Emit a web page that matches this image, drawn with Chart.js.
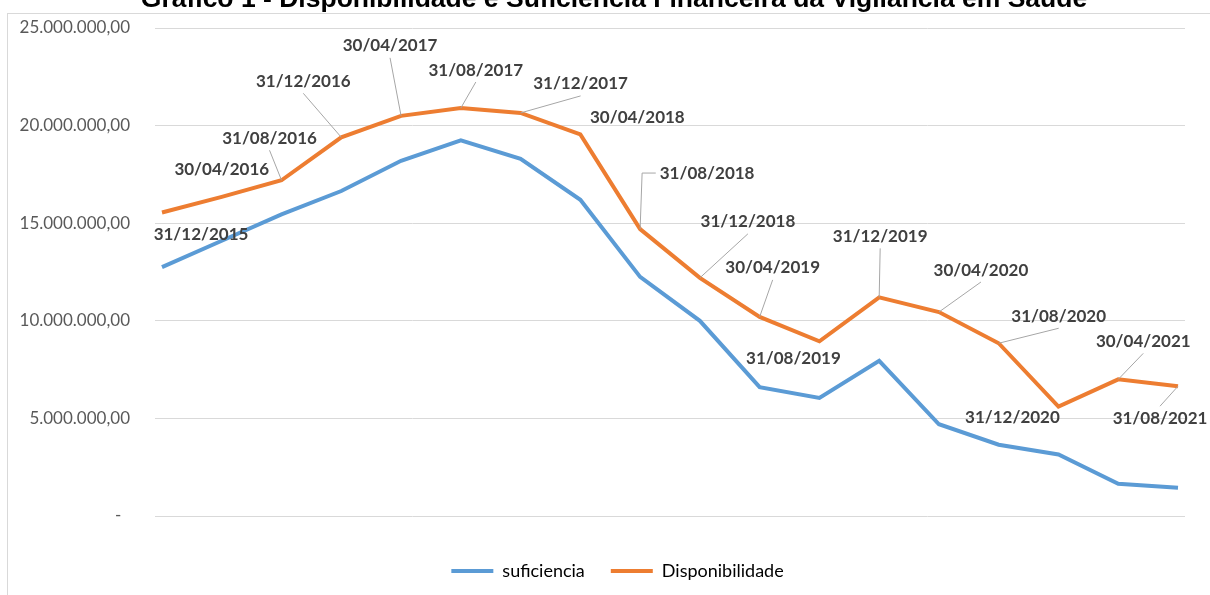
<!DOCTYPE html>
<html>
<head>
<meta charset="utf-8">
<script src="https://cdn.jsdelivr.net/npm/chart.js@4/dist/chart.umd.min.js"></script>
<style>
  html, body { margin: 0; padding: 0; background: #fff; }
  #wrap { width: 1210px; height: 595px; position: relative; }
</style>
</head>
<body>
<div id="wrap"><canvas id="chart" width="1210" height="595"></canvas></div>
<script>
'use strict'

const dates = [
  '31/12/2015', '30/04/2016', '31/08/2016', '31/12/2016', '30/04/2017', '31/08/2017',
  '31/12/2017', '30/04/2018', '31/08/2018', '31/12/2018', '30/04/2019', '31/08/2019',
  '31/12/2019', '30/04/2020', '31/08/2020', '31/12/2020', '30/04/2021', '31/08/2021'
];
const suficiencia = [
  12750000, 14100000, 15450000, 16650000, 18200000, 19250000,
  18300000, 16200000, 12250000, 10000000, 6600000, 6050000,
  7950000, 4700000, 3650000, 3150000, 1650000, 1450000
];
const disponibilidade = [
  15550000, 16350000, 17200000, 19400000, 20500000, 20900000,
  20650000, 19550000, 14700000, 12200000, 10200000, 8950000,
  11200000, 10450000, 8850000, 5600000, 7000000, 6650000
];
const yTicks = [0, 5000000, 10000000, 15000000, 20000000, 25000000];
const title = 'Gráfico 1 - Disponibilidade e Suficiência Financeira da Vigilância em Saúde';

// posição dos rótulos (dx, dy em px a partir do ponto), leader: 'v', 'elbow' ou null
const labelPos = [
  [39, 22, null], [0, -27, null], [-12, -42, 'v'], [-38, -56, 'v'], [-11, -70, 'v'], [15, -38, 'v'],
  [60, -29, 'v'], [57, -17, null], [67, -56, 'elbow'], [48, -56, 'v'], [13, -49, 'v'], [-26, 17, null],
  [1, -61, 'v'], [42, -42, 'v'], [60, -27, 'v'], [-46, 11, null], [25, -38, 'v'], [-18, 32, 'v']
];

function fmt(v) {
  if (v === 0) return '-  ';
  const parts = Math.round(v).toString().replace(/\B(?=(\d{3})+(?!\d))/g, '.');
  return parts + ',00';
}

const frame = {
  id: 'frame',
  afterLayout(chart) {
    // centraliza a legenda como no original
    chart.legend.left = 50;
  },
  beforeDraw(chart) {
    const c = chart.ctx;
    c.save();
    c.strokeStyle = '#d9d9d9';
    c.lineWidth = 1;
    c.strokeRect(7.5, 13.5, 1220, 600);
    c.fillStyle = '#000';
    c.font = 'bold 26.5px "Liberation Sans", Arial, sans-serif';
    c.textAlign = 'center';
    c.textBaseline = 'alphabetic';
    c.fillText(title, 614, 7);
    c.restore();
  }
};

const dateLabels = {
  id: 'dateLabels',
  afterDatasetsDraw(chart) {
    const c = chart.ctx;
    const meta = chart.getDatasetMeta(1);
    c.save();
    c.font = 'bold 17px Lato, "Liberation Sans", sans-serif';
    c.textAlign = 'center';
    c.textBaseline = 'middle';
    meta.data.forEach((pt, i) => {
      const [dx, dy, leader] = labelPos[i];
      const lx = pt.x + dx, ly = pt.y + dy;
      c.strokeStyle = '#a6a6a6';
      c.lineWidth = 1;
      if (leader === 'v') {
        const sy = dy < 0 ? ly + 12 : ly - 12;
        c.beginPath();
        c.moveTo(lx, sy);
        c.lineTo(pt.x, pt.y);
        c.stroke();
      } else if (leader === 'elbow') {
        const w = c.measureText(dates[i]).width;
        c.beginPath();
        c.moveTo(lx - w / 2 - 4, ly);
        c.lineTo(pt.x + 2, ly);
        c.lineTo(pt.x, pt.y);
        c.stroke();
      }
      c.fillStyle = '#404040';
      c.fillText(dates[i], lx, ly);
    });
    c.restore();
  }
};

new Chart(document.getElementById('chart'), {
  type: 'line',
  data: {
    datasets: [
      {
        label: 'suficiencia',
        data: suficiencia.map((v, i) => ({ x: i, y: v })),
        borderColor: '#5b9bd5',
        backgroundColor: '#5b9bd5',
        borderWidth: 4,
        pointRadius: 0,
        tension: 0,
      },
      {
        label: 'Disponibilidade',
        data: disponibilidade.map((v, i) => ({ x: i, y: v })),
        borderColor: '#ed7d31',
        backgroundColor: '#ed7d31',
        borderWidth: 4,
        pointRadius: 0,
        tension: 0,
      }
    ]
  },
  options: {
    responsive: false,
    animation: false,
    layout: { padding: { top: 28, right: 25, left: 0, bottom: 5 } },
    scales: {
      x: {
        type: 'linear',
        min: -0.117,
        max: dates.length - 1 + 0.117,
        display: true,
        afterFit(scale) { scale.height = 20; },
        border: { display: false },
        grid: { display: false },
        ticks: { display: false },
      },
      y: {
        min: yTicks[0],
        max: yTicks[yTicks.length - 1],
        afterFit(scale) { scale.width = 155; },
        border: { display: false },
        grid: { color: '#d9d9d9', lineWidth: 1, drawTicks: true, tickLength: 25, tickColor: 'rgba(0,0,0,0)' },
        ticks: {
          stepSize: yTicks[1] - yTicks[0],
          padding: 0,
          color: '#595959',
          font: { family: 'Lato', size: 17 },
          callback: (v) => fmt(v),
        }
      }
    },
    plugins: {
      title: { display: false },
      tooltip: { enabled: false },
      legend: {
        position: 'bottom',
        labels: {
          boxWidth: 42,
          boxHeight: 4,
          padding: 26,
          color: '#595959',
          font: { family: 'Lato', size: 18 },
          generateLabels(chart) {
            return chart.data.datasets.map((d, i) => ({
              text: d.label,
              fillStyle: d.borderColor,
              strokeStyle: d.borderColor,
              lineWidth: 0,
              datasetIndex: i,
            }));
          }
        }
      }
    }
  },
  plugins: [frame, dateLabels]
});
</script>
</body>
</html>
